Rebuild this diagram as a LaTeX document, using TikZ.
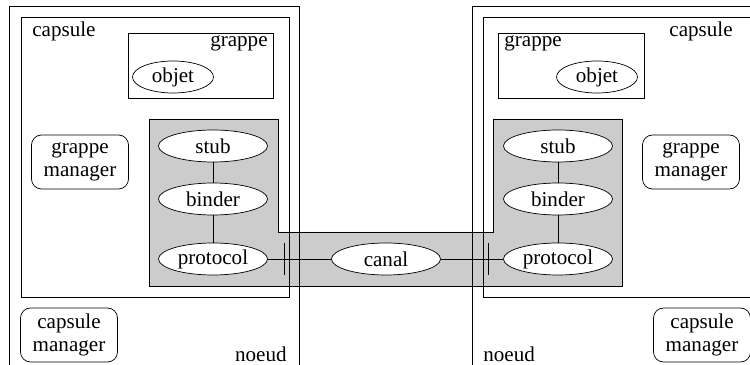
\documentclass[tikz,border=0pt]{standalone}
\usepackage{fontspec}
\setmainfont{Liberation Serif}
\usetikzlibrary{shapes.geometric}
\begin{document}
\begin{tikzpicture}[font=\fontsize{12}{13.2}\selectfont,
    elem/.style={draw, ellipse, fill=white, minimum width=2.18cm, minimum height=0.64cm, inner sep=0pt},
    obj/.style={draw, ellipse, fill=white, minimum width=1.62cm, minimum height=0.64cm, inner sep=0pt},
    mgr/.style={draw, fill=white, rounded corners=0.2cm, align=center, minimum width=1.94cm, minimum height=1.08cm, inner sep=1pt},
    lbl/.style={inner sep=0pt}]
         \useasboundingbox (0,0) rectangle (15,7.3);
         \clip (0,0) rectangle (15,7.3);
         \draw[fill=black!20] (2.98,4.92) -- (5.56,4.92) -- (5.56,2.66) -- (9.86,2.66) -- (9.86,4.92) -- (12.44,4.92) -- (12.44,1.58) -- (2.98,1.58) -- cycle;
         \draw (0.18,-0.5) rectangle (5.98,7.18);
         \draw (0.42,1.36) rectangle (5.78,6.96);
         \draw (9.44,-0.5) rectangle (15.5,7.18);
         \draw (9.66,1.36) rectangle (15.2,6.96);
         \draw (2.56,5.34) rectangle (5.46,6.64);
         \draw (9.96,5.34) rectangle (12.88,6.64);
         \node[lbl, anchor=base west] (lcap) at (0.64,6.56) {capsule};
         \node[lbl, anchor=base east] (rcap) at (14.66,6.56) {capsule};
         \node[lbl, anchor=base east] (lgrp) at (5.36,6.36) {grappe};
         \node[lbl, anchor=base west] (rgrp) at (10.08,6.36) {grappe};
         \node[lbl, anchor=base east] (lnoeud) at (5.74,0.06) {noeud};
         \node[lbl, anchor=base west] (rnoeud) at (9.66,0.06) {noeud};
         \node[obj] (lobj) at (3.46,5.76) {objet};
         \node[obj] (robj) at (11.94,5.76) {objet};
         \node[mgr] (lgm) at (1.6,4.06) {grappe\\manager};
         \node[mgr] (rgm) at (13.82,4.06) {grappe\\manager};
         \node[mgr] (lcm) at (1.38,0.6) {capsule\\manager};
         \node[mgr] (rcm) at (14.04,0.6) {capsule\\manager};
         \node[elem] (lstub) at (4.26,4.38) {stub};
         \node[elem] (lbind) at (4.26,3.32) {binder};
         \node[elem] (lprot) at (4.26,2.12) {protocol};
         \node[elem] (rstub) at (11.16,4.38) {stub};
         \node[elem] (rbind) at (11.16,3.32) {binder};
         \node[elem] (rprot) at (11.16,2.12) {protocol};
         \node[elem] (canal) at (7.72,2.12) {canal};
         \coordinate (lt) at (5.68,2.12);
         \coordinate (rt) at (9.76,2.12);
         \draw (lstub) -- (lbind) -- (lprot);
         \draw (rstub) -- (rbind) -- (rprot);
         \draw (lprot) -- (canal) -- (rprot);
         \draw ([yshift=0.32cm]lt) -- ([yshift=-0.32cm]lt);
         \draw ([yshift=0.32cm]rt) -- ([yshift=-0.32cm]rt);
    \end{tikzpicture}
\end{document}
